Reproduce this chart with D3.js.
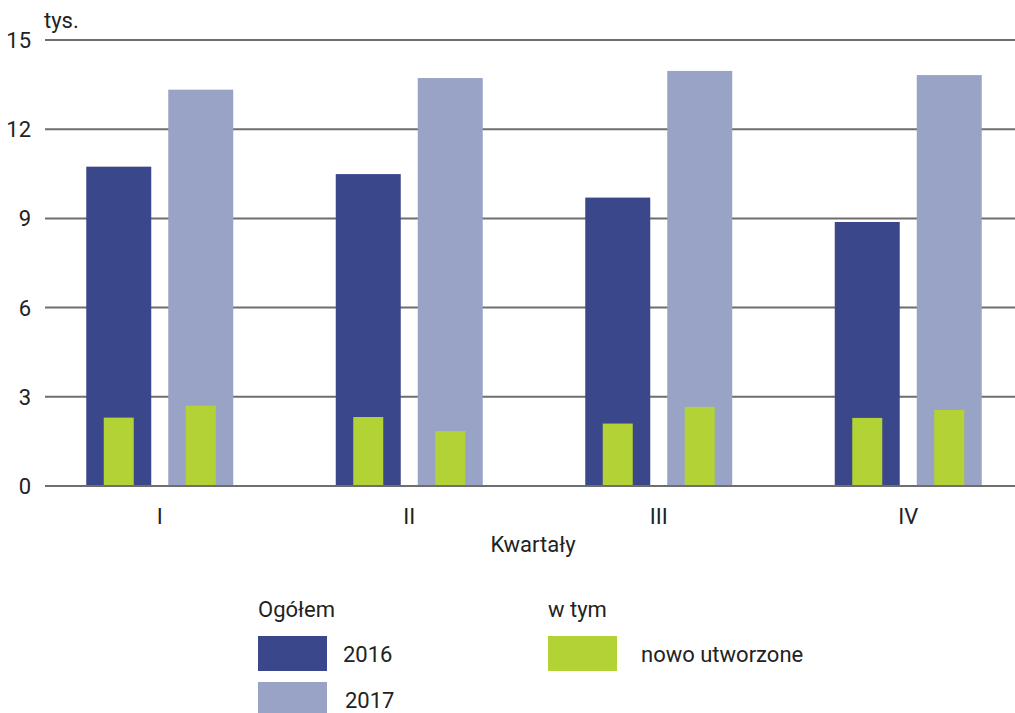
<!DOCTYPE html>
<html><head><meta charset="utf-8">
<script src="https://cdn.jsdelivr.net/npm/d3@7"></script>
<style>body{margin:0;background:#fff}text{font-family:Roboto,"Open Sans",sans-serif;fill:#222}</style>
</head><body><svg id="c" width="1015" height="713"></svg>
<script>
const categories = ["I","II","III","IV"];
const total2016 = [10.74, 10.49, 9.70, 8.88];
const total2017 = [13.33, 13.72, 13.96, 13.82];
const new2016 = [2.30, 2.32, 2.10, 2.29];
const new2017 = [2.70, 1.85, 2.66, 2.56];
const yTicks = [0,3,6,9,12,15];
const colors = {d2016:"#3a478a", d2017:"#98a3c5", nowe:"#b2d235"};

const svg = d3.select("#c");
const y = d3.scaleLinear().domain([0,15]).range([486,40]);
const x = d3.scaleBand().domain(categories).range([35,1033]);
const fs = 22;

// gridlines
svg.append("g").selectAll("line").data(yTicks).join("line")
  .attr("x1",45).attr("x2",1015).attr("y1",d=>y(d)).attr("y2",d=>y(d))
  .attr("stroke","#6e6e6e").attr("stroke-width",2);
// y labels
svg.append("g").selectAll("text").data(yTicks).join("text")
  .attr("x",31).attr("y",d=>y(d)).attr("dy","0.36em").attr("text-anchor","end")
  .style("font-size",fs+"px").text(d=>d);
svg.append("text").attr("x",44).attr("y",28).style("font-size",fs+"px").text("tys.");

const barW = 65, gap = 17, greenW = 30;
function bars(vals, offset, w, color){
  svg.append("g").selectAll("rect").data(vals).join("rect")
    .attr("x",(d,i)=>x(categories[i])+x.bandwidth()/2+offset-w/2)
    .attr("width",w)
    .attr("y",d=>y(d)).attr("height",d=>y(0)-y(d))
    .attr("fill",color);
}
const off = gap/2+barW/2;
bars(total2016,-off,barW,colors.d2016);
bars(total2017,off,barW,colors.d2017);
bars(new2016,-off,greenW,colors.nowe);
bars(new2017,off,greenW,colors.nowe);

// baseline on top
svg.append("line").attr("x1",45).attr("x2",1015).attr("y1",y(0)).attr("y2",y(0))
  .attr("stroke","#6e6e6e").attr("stroke-width",2);

// category labels
svg.append("g").selectAll("text").data(categories).join("text")
  .attr("x",d=>x(d)+x.bandwidth()/2).attr("y",524).attr("text-anchor","middle")
  .style("font-size",fs+"px").text(d=>d);
svg.append("text").attr("x",533).attr("y",552).attr("text-anchor","middle")
  .style("font-size",fs+"px").text("Kwartały");

// legend
svg.append("text").attr("x",258).attr("y",617).style("font-size",fs+"px").text("Ogółem");
svg.append("text").attr("x",548).attr("y",617).style("font-size",fs+"px").text("w tym");
const leg = [
  {x:258,y:636,c:colors.d2016,t:"2016",tx:343},
  {x:258,y:682,c:colors.d2017,t:"2017",tx:345},
  {x:548,y:636,c:colors.nowe,t:"nowo utworzone",tx:641}
];
leg.forEach(l=>{
  svg.append("rect").attr("x",l.x).attr("y",l.y).attr("width",69).attr("height",35).attr("fill",l.c);
  svg.append("text").attr("x",l.tx).attr("y",l.y+18).attr("dy","0.36em").style("font-size",fs+"px").text(l.t);
});
</script></body></html>
